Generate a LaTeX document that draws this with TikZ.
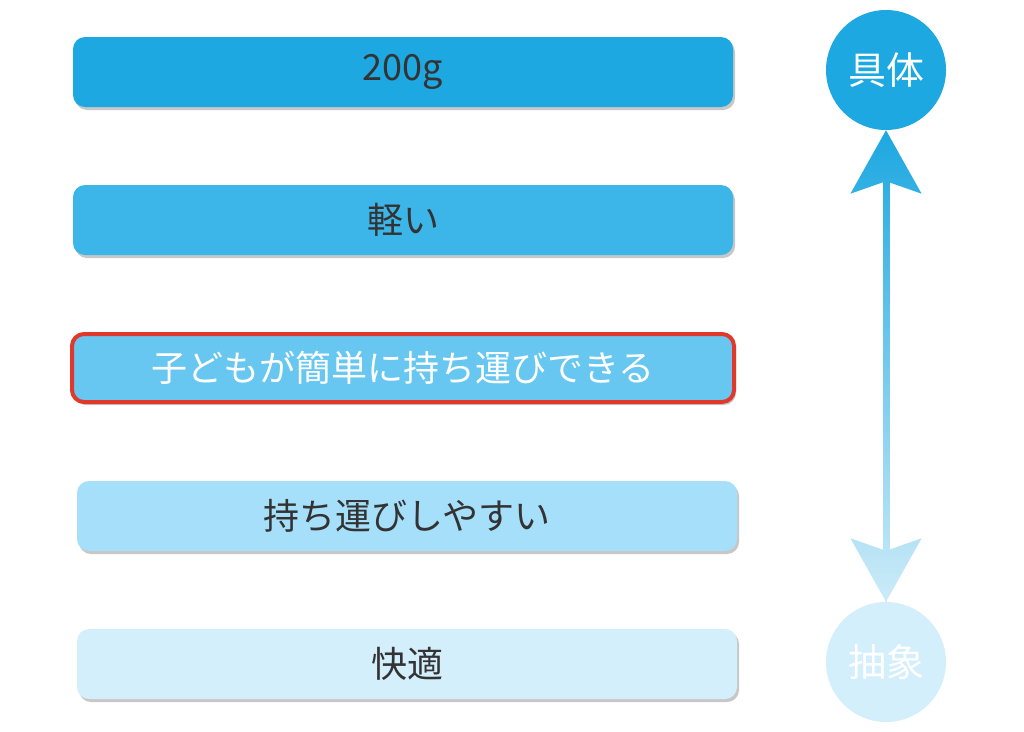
\documentclass[tikz,border=0pt]{standalone}
\usepackage{fontspec}
\setmainfont{Noto Sans CJK JP}
\usetikzlibrary{arrows.meta,shadows,fadings}

\definecolor{lvA}{HTML}{1DA8E1}
\definecolor{lvB}{HTML}{3CB6E9}
\definecolor{lvC}{HTML}{67C7F0}
\definecolor{lvD}{HTML}{A5DFF9}
\definecolor{lvE}{HTML}{D3EFFB}
\definecolor{inkdark}{HTML}{333333}
\definecolor{markred}{HTML}{E0392B}

\tikzfading[name=arrowfade, top color=transparent!100, bottom color=transparent!22]

\tikzset{
    levelbox/.style={rounded corners=12pt, minimum width=660pt, minimum height=70pt,
        inner sep=0pt, text=inkdark, font=\fontsize{36}{40}\selectfont,
        drop shadow={shadow xshift=2pt, shadow yshift=-3pt, fill=black, opacity=0.22}},
    endcircle/.style={circle, minimum size=120pt, inner sep=0pt, text=white,
        font=\fontsize{38}{40}\selectfont},
}

\begin{document}
\begin{tikzpicture}[x=1pt,y=-1pt]
        \useasboundingbox (0,0) rectangle (1024,731);

        \node[levelbox, fill=lvA] (l1) at (403,72) {200g};
        \node[levelbox, fill=lvB] (l2) at (403,220) {軽い};
        \node[levelbox, fill=lvC, draw=markred, line width=4pt, text=white,
            minimum width=662pt, minimum height=68pt] (l3) at (403,368) {子どもが簡単に持ち運びできる};
        \node[levelbox, fill=lvD] (l4) at (407,516) {持ち運びしやすい};
        \node[levelbox, fill=lvE] (l5) at (407,664) {快適};

        \node[endcircle, fill=lvA] (concrete) at (886,70) {具体};
        \node[endcircle, fill=lvE] (abstract) at (886,662) {抽象};

        \path[draw=lvA, line width=7pt,
            {Stealth[length=63pt,width=70pt,inset=12pt]}-{Stealth[length=63pt,width=70pt,inset=12pt]}]
            (concrete) -- (abstract);

        % lighten the arrow towards the bottom
        \path[fill=white, path fading=arrowfade] (846,131) rectangle (926,601);

    \end{tikzpicture}
\end{document}
